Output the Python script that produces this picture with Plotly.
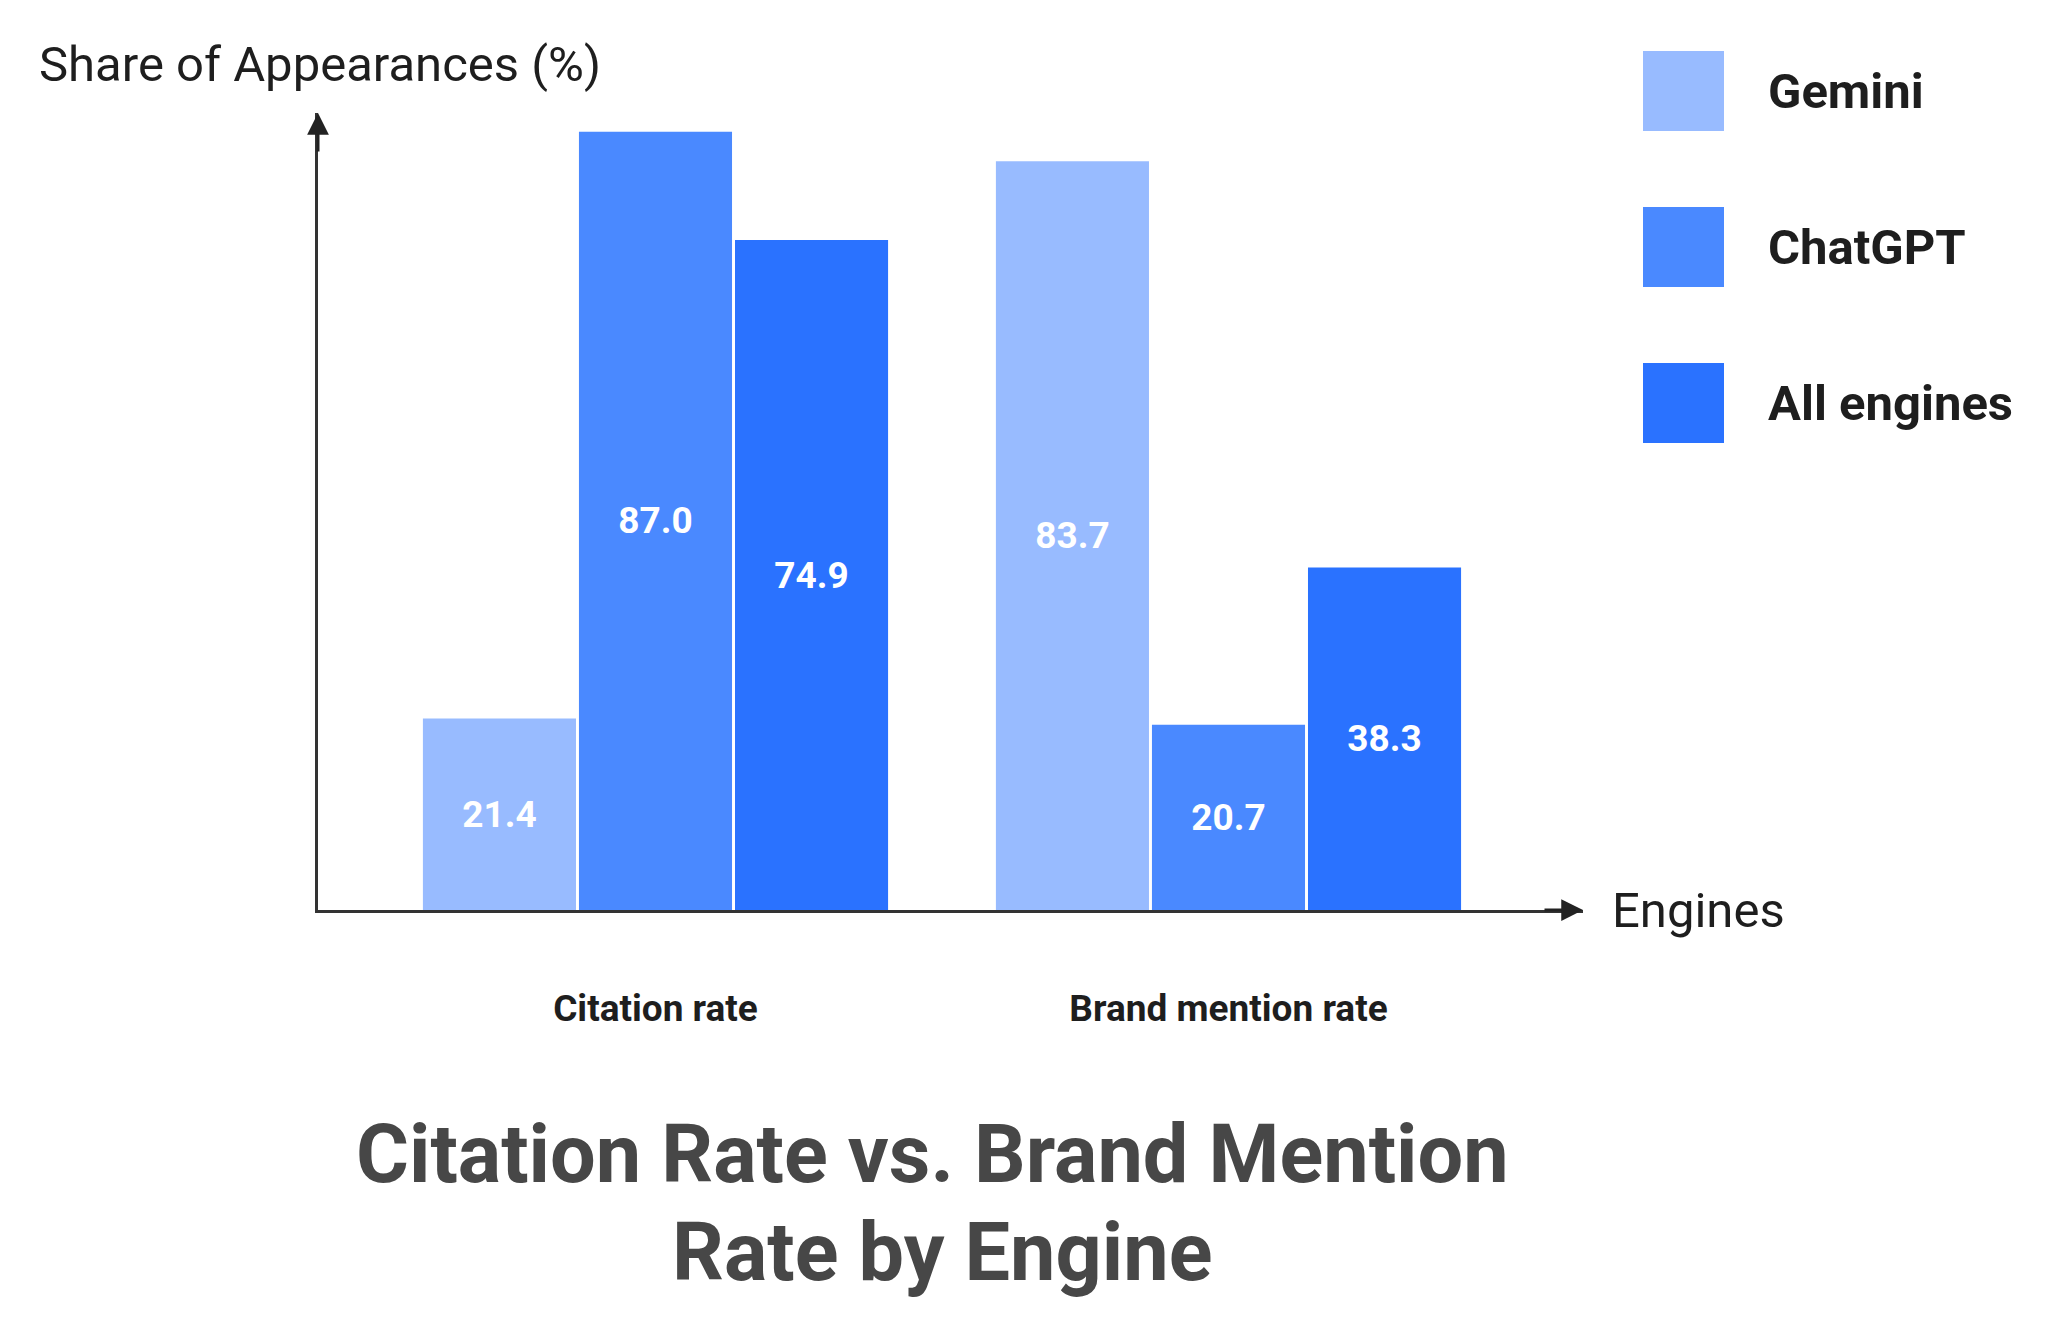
import plotly.graph_objects as go

# dati
categorie = ["Citation rate", "Brand mention rate"]
serie = ["Gemini", "ChatGPT", "All engines"]
gemini = [21.4, 83.7]
chatgpt = [87.0, 20.7]
all_engines = [74.9, 38.3]
colori = ["#98BBFF", "#4A89FF", "#2A72FF"]
titolo = ["Citation Rate vs. Brand Mention", "Rate by Engine"]

OFF = 8                      # margine del body html
W, H = 2051 - 2 * OFF, 1339 - 2 * OFF
L, R, T, B = 318, 1583, 113, 910   # area del grafico (pixel pagina)


def px_x(x):
    return (x - L) / (R - L)


def px_y(y):
    return (B - y) / (B - T)


fig = go.Figure()
for nome, valori, col in zip(serie, [gemini, chatgpt, all_engines], colori):
    fig.add_trace(go.Bar(
        x=categorie,
        y=valori,
        name=nome,
        marker=dict(color=col, line=dict(width=0)),
        text=[f"{v:.1f}" for v in valori],
        textposition="inside",
        insidetextanchor="middle",
        textangle=0,
        textfont=dict(family="Roboto", size=37, color="white", weight="bold"),
        hoverinfo="skip",
    ))

# legenda fatta a mano (quadrati grandi)
shapes = []
annotations = []
for i, (nome, col) in enumerate(zip(serie, colori)):
    y0 = 51 + i * 156
    shapes.append(dict(
        type="rect", xref="paper", yref="paper",
        x0=px_x(1643), x1=px_x(1724), y0=px_y(y0), y1=px_y(y0 + 80),
        fillcolor=col, line=dict(width=0),
    ))
    annotations.append(dict(
        text=nome, xref="paper", yref="paper",
        x=px_x(1766), y=px_y(y0 + 40), xanchor="left", yanchor="middle",
        showarrow=False,
        font=dict(family="Roboto", size=49, color="#1e1e1e", weight="bold"),
    ))

# titoli assi
annotations.append(dict(
    text="Share of Appearances (%)", xref="paper", yref="paper",
    x=px_x(37), y=px_y(64), xanchor="left", yanchor="middle", showarrow=False,
    font=dict(family="Roboto", size=49, color="#1e1e1e"),
))
annotations.append(dict(
    text="Engines", xref="paper", yref="paper",
    x=px_x(1610), y=0, xanchor="left", yanchor="middle", showarrow=False,
    font=dict(family="Roboto", size=49, color="#1e1e1e"),
))

# frecce degli assi
annotations.append(dict(
    text="", xref="paper", yref="paper", x=1, y=0, ax=-40, ay=0,
    showarrow=True, arrowhead=2, arrowwidth=3, arrowsize=1.45, arrowcolor="#222222",
))
annotations.append(dict(
    text="", xref="paper", yref="paper", x=0, y=1, ax=0, ay=40,
    showarrow=True, arrowhead=2, arrowwidth=3, arrowsize=1.45, arrowcolor="#222222",
))

# titolo in basso, due righe
for riga, xpx, ypx in zip(titolo, [932, 942], [1154, 1252]):
    annotations.append(dict(
        text=riga, xref="paper", yref="paper", x=px_x(xpx), y=px_y(ypx),
        xanchor="center", yanchor="middle", showarrow=False,
        font=dict(family="Roboto", size=81, color="#474747", weight="bold"),
    ))

fig.update_layout(
    width=W, height=H,
    margin=dict(l=L - OFF, r=W - (R - OFF), t=T - OFF, b=H - (B - OFF), pad=0),
    paper_bgcolor="white",
    plot_bgcolor="white",
    barmode="group",
    bargap=0.183,
    bargroupgap=0.019,
    showlegend=False,
    shapes=shapes,
    annotations=annotations,
    xaxis=dict(
        range=[-0.589, 1.6187],
        showline=True, linewidth=3, linecolor="#333333",
        showgrid=False, zeroline=False, ticks="",
        ticklabelstandoff=64,
        tickfont=dict(family="Roboto", size=37, color="#1e1e1e", weight="bold"),
    ),
    yaxis=dict(
        range=[0, 89.1],
        showline=True, linewidth=3, linecolor="#333333",
        showgrid=False, zeroline=False, ticks="", showticklabels=False,
    ),
)

fig.write_html("out.html")
